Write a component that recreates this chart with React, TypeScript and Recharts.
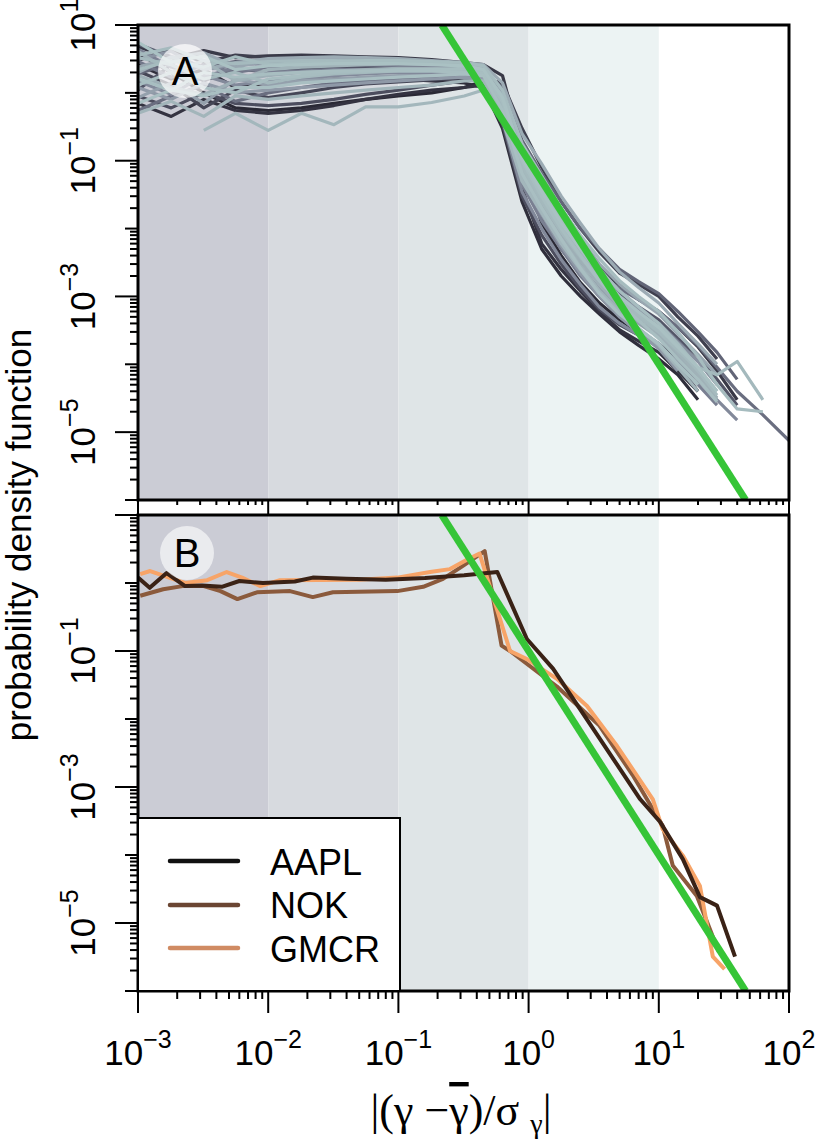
import React from "react";
import { LineChart, Line, XAxis, YAxis, ReferenceArea } from "recharts";

// shared x grid of the panel A curves
const A_X = [0.001, 0.0018, 0.0032, 0.0056, 0.01, 0.018, 0.032, 0.056, 0.1, 0.18, 0.32, 0.45, 0.63, 0.89, 1.26, 1.78, 2.5, 3.5, 5, 7, 10, 14, 20, 28, 40, 63, 100];

// panel A: one curve per stock
const s01 = [3.8, 2.0, 1.0, 0.6, 0.55, 0.6, 0.7, 0.8, 0.9, 1.0, 1.2, 1.5, 1.3, 0.1, 0.012, 4e-3, 1.6e-3, 8e-4, 4.5e-4, 3e-4, 2e-4, 1.2e-4, 6e-5, 3e-5, null, null, null];
const s02 = [0.7, 0.45, 0.8, 0.55, 0.5, 0.55, 0.65, 0.8, 0.95, 1.1, 1.2, 1.3, 0.6, 0.04, 6e-3, 2.5e-3, 1.2e-3, 6e-4, 3.2e-4, 2.2e-4, 1.5e-4, 8e-5, 4e-5, null, null, null, null];
const s03 = [4.8, 3.2, 4.2, 3.3, 3.5, 3.6, 3.5, 3.4, 3.3, 3.1, 2.8, 2.6, 1.8, 0.15, 0.04, 0.015, 6e-3, 2.8e-3, 1.4e-3, 9e-4, 6e-4, 3.5e-4, 1.8e-4, 8e-5, 3e-5, null, null];
const s04 = [2.1, 1.3, 0.6, 1.1, 0.85, 1.0, 1.2, 1.35, 1.45, 1.55, 1.65, 1.6, 0.45, 0.05, 0.015, 5e-3, 2.2e-3, 1e-3, 5e-4, 3.2e-4, 2e-4, 1e-4, 4e-5, null, null, null, null];
const s05 = [1.1, 2.6, 1.5, 2.3, 2.0, 2.2, 2.3, 2.4, 2.4, 2.3, 2.2, 2.0, 1.0, 0.1, 0.03, 0.01, 4.5e-3, 2.2e-3, 1.1e-3, 7e-4, 4.5e-4, 2.4e-4, 1.3e-4, 6e-5, 2.5e-5, null, null];
const s06 = [5.2, 3.4, 2.4, 2.9, 3.0, 3.1, 3.2, 3.1, 3.0, 2.9, 2.7, 2.3, 0.6, 0.06, 0.02, 7.5e-3, 3.3e-3, 1.6e-3, 8e-4, 5e-4, 3e-4, 1.6e-4, 8e-5, null, null, null, null];
const s07 = [0.55, 0.9, 1.3, 0.75, 1.0, 1.2, 1.4, 1.5, 1.6, 1.7, 1.8, 1.8, 0.7, 0.08, 0.025, 0.01, 4.5e-3, 2.2e-3, 1.3e-3, 9e-4, 6e-4, 3.5e-4, 1.9e-4, 9e-5, 4e-5, 1.8e-5, 7.5e-6];
const s08 = [2.9, 1.7, 2.6, 2.0, 2.4, 2.5, 2.6, 2.6, 2.5, 2.5, 2.4, 2.1, 0.9, 0.12, 0.04, 0.014, 5.5e-3, 2.5e-3, 1.2e-3, 7e-4, 4e-4, 2.2e-4, 1.1e-4, null, null, null, null];
const s09 = [1.5, 0.95, 1.8, 1.3, 1.5, 1.6, 1.8, 1.9, 2.0, 2.0, 2.0, 1.8, 0.4, 0.035, 0.01, 3.5e-3, 1.5e-3, 7e-4, 4e-4, 2.7e-4, 1.8e-4, 1.1e-4, 6e-5, 3e-5, 1.5e-5, null, null];
const s10 = [3.1, 4.1, 2.2, 2.6, 2.7, 2.8, 2.8, 2.8, 2.7, 2.6, 2.5, 2.2, 0.75, 0.09, 0.03, 0.01, 4.5e-3, 2e-3, 1e-3, 6.3e-4, 4e-4, 2.1e-4, 1.1e-4, 5e-5, null, null, null];
const s11 = [0.85, 1.4, 0.7, 1.6, 1.3, 1.5, 1.6, 1.7, 1.8, 1.8, 1.9, 1.7, 0.5, 0.06, 0.02, 7e-3, 2.8e-3, 1.3e-3, 6.5e-4, 4e-4, 2.5e-4, 1.3e-4, 6e-5, 2.8e-5, null, null, null];
const s12 = [2.4, 3.3, 3.9, 2.4, 3.0, 3.1, 3.2, 3.1, 3.0, 2.8, 2.6, 2.3, 1.0, 0.15, 0.05, 0.018, 7e-3, 3e-3, 1.5e-3, 9e-4, 5.5e-4, 2.8e-4, 1.4e-4, 7e-5, null, null, null];
const s13 = [1.8, 1.2, 0.95, 1.5, 1.8, 2.0, 2.1, 2.2, 2.3, 2.3, 2.2, 1.9, 0.6, 0.07, 0.022, 8e-3, 3.3e-3, 1.5e-3, 7e-4, 4.3e-4, 2.7e-4, 1.4e-4, 7e-5, 3.2e-5, null, null, null];
const s14 = [4.1, 2.0, 3.0, 1.5, 2.2, 2.4, 2.5, 2.6, 2.7, 2.7, 2.6, 2.3, 0.8, 0.1, 0.032, 0.011, 4.5e-3, 2e-3, 9e-4, 5.2e-4, 3e-4, 1.5e-4, 7e-5, 3e-5, null, null, null];
const s15 = [null, null, 0.28, 0.5, 0.28, 0.5, 0.34, 0.62, 0.62, 0.72, 0.9, 1.1, 0.4, 0.05, 0.017, 6e-3, 2.5e-3, 1.1e-3, 5.5e-4, 3.3e-4, 2e-4, 1e-4, 5e-5, null, null, null, null];
const s16 = [3.3, 2.6, 1.6, 2.0, 1.4, 1.7, 1.9, 2.0, 2.1, 2.1, 2.1, 1.9, 0.65, 0.08, 0.025, 9e-3, 3.8e-3, 1.7e-3, 8e-4, 4.9e-4, 3e-4, 1.6e-4, 9e-5, 7e-5, 1.1e-4, 3e-5, null];
const s17 = [2.2, 3.0, 2.4, 3.4, 2.6, 2.8, 2.9, 3.0, 3.0, 2.9, 2.8, 2.5, 1.1, 0.18, 0.06, 0.02, 8e-3, 3.6e-3, 1.7e-3, 1e-3, 6e-4, 3e-4, 1.3e-4, 5e-5, 2.2e-5, 2e-5, null];
const s18 = [1.3, 2.0, 1.2, 1.0, 1.6, 1.8, 2.0, 2.1, 2.2, 2.2, 2.3, 2.0, 0.9, 0.12, 0.04, 0.014, 5.5e-3, 2.5e-3, 1.2e-3, 7e-4, 4e-4, 2e-4, 9e-5, 4e-5, null, null, null];
const s19 = [0.7, 1.1, 0.9, 1.2, 1.2, 1.4, 1.5, 1.6, 1.7, 1.8, 1.9, 1.8, 0.55, 0.065, 0.02, 7e-3, 2.6e-3, 1.1e-3, 5.5e-4, 3.3e-4, 2e-4, 1e-4, 5e-5, null, null, null, null];
const s20 = [5.6, 2.8, 3.5, 2.2, 2.5, 2.6, 2.7, 2.7, 2.7, 2.6, 2.5, 2.2, 0.85, 0.11, 0.035, 0.012, 5e-3, 2.2e-3, 1e-3, 5.9e-4, 3.5e-4, 1.8e-4, 9e-5, 4e-5, null, null, null];
const s21 = [2.6, 1.6, 2.2, 1.2, 1.4, 1.5, 1.6, 1.6, 1.6, 1.5, 1.4, 1.2, 0.3, 0.025, 5e-3, 2e-3, 1e-3, 5.5e-4, 3e-4, 1.9e-4, 1.2e-4, 7e-5, 3e-5, null, null, null, null];
const s22 = [3.0, 4.4, 2.8, 3.6, 3.3, 3.3, 3.2, 3.0, 2.8, 2.5, 2.0, 1.6, 1.4, 0.3, 0.08, 0.025, 0.01, 4.5e-3, 2.2e-3, 1.5e-3, 1e-3, 5e-4, 2.6e-4, 1.2e-4, null, null, null];
const s23 = [0.9, 0.6, 1.0, 0.7, 0.65, 0.7, 0.8, 0.95, 1.1, 1.3, 1.5, 1.6, 0.35, 0.03, 8e-3, 3e-3, 1.3e-3, 6.5e-4, 3.8e-4, 2.7e-4, 1.9e-4, 1.1e-4, 6e-5, 3e-5, null, null, null];
const s24 = [1.9, 2.8, 3.6, 2.6, 2.9, 2.9, 2.8, 2.7, 2.6, 2.5, 2.3, 2.0, 1.2, 0.2, 0.065, 0.025, 0.01, 5e-3, 2.5e-3, 1.65e-3, 1.1e-3, 6e-4, 3e-4, 1.5e-4, 6e-5, null, null];
const s25 = [4.4, 2.4, 1.7, 2.4, 2.0, 2.1, 2.2, 2.2, 2.2, 2.1, 2.0, 1.8, 0.55, 0.045, 0.013, 5e-3, 2e-3, 1e-3, 5e-4, 3.1e-4, 1.9e-4, 1e-4, 5e-5, 2.5e-5, null, null, null];
const s26 = [1.2, 0.8, 1.4, 1.0, 1.1, 1.2, 1.3, 1.4, 1.5, 1.6, 1.7, 1.6, 0.5, 0.055, 0.016, 5.5e-3, 2.2e-3, 1e-3, 5e-4, 2.9e-4, 1.7e-4, 8e-5, null, null, null, null, null];
const s27 = [2.0, 3.4, 2.2, 2.8, 3.2, 3.3, 3.4, 3.3, 3.2, 3.0, 2.8, 2.6, 1.4, 0.25, 0.09, 0.03, 0.012, 5e-3, 2.3e-3, 1.35e-3, 8e-4, 4e-4, 2e-4, 1e-4, null, null, null];
const s28 = [0.5, 0.75, 0.45, 0.9, 0.8, 0.9, 1.0, 1.1, 1.2, 1.3, 1.5, 1.5, 0.5, 0.06, 0.02, 7e-3, 2.8e-3, 1.2e-3, 6e-4, 3.4e-4, 1.9e-4, 9e-5, 4e-5, null, null, null, null];
const s29 = [3.6, 4.6, 3.0, 2.7, 2.9, 3.0, 3.0, 2.9, 2.8, 2.7, 2.5, 2.2, 0.7, 0.085, 0.028, 0.01, 4e-3, 1.8e-3, 8.5e-4, 5.3e-4, 3.3e-4, 1.7e-4, 8e-5, 3.5e-5, null, null, null];
const s30 = [1.6, 1.1, 2.0, 1.7, 1.9, 2.0, 2.1, 2.1, 2.1, 2.1, 2.0, 1.9, 0.75, 0.1, 0.03, 0.01, 4e-3, 1.7e-3, 8e-4, 4.4e-4, 2.4e-4, 1.2e-4, 6e-5, 2.8e-5, null, null, null];

// drawing order: darkest first, lightest on top
const A_SERIES = [s01, s21, s02, s03, s22, s04, s23, s05, s06, s24, s07, s08, s25, s09, s10, s26, s11, s12, s27, s13, s14, s28, s15, s16, s29, s17, s18, s30, s19, s20];
const A_COLORS = [
  "#2a2935", "#2f2e3b", "#343341", "#393947", "#3f3f4e", "#454656", "#4c4d5e", "#535567", "#5a5d6f", "#626577",
  "#6a6e80", "#727789", "#7a8092", "#82899a", "#8992a1", "#8f99a7", "#94a0ac", "#98a6b0", "#9cabb4", "#9eafb6",
  "#a0b2b8", "#a2b5ba", "#a3b7bc", "#a4b9bd", "#a5babe", "#a6bcbf", "#a7bdc0", "#a8bec1", "#a9bfc2", "#aac1c3",
];

// panel B
const AAPL_X = [0.001, 0.00123, 0.00166, 0.0023, 0.0031, 0.0044, 0.006, 0.0091, 0.016, 0.022, 0.04, 0.08, 0.16, 0.32, 0.575, 0.97, 1.54, 7.2, 10.2, 15.3, 20.7, 28, 38.5];
const AAPL_Y = [1.2, 0.85, 1.4, 0.9, 0.92, 0.88, 1.07, 1.0, 1.05, 1.2, 1.15, 1.12, 1.18, 1.3, 1.45, 0.15, 0.055, 6.6e-4, 3.1e-4, 8.7e-5, 2.4e-5, 1.8e-5, 3.2e-6];
const NOK_X = [0.00104, 0.00156, 0.0022, 0.0032, 0.0043, 0.0058, 0.0082, 0.0147, 0.022, 0.0314, 0.098, 0.155, 0.22, 0.315, 0.46, 0.62, 0.72, 1.65, 3.5, 6.3, 10.7, 12.8, 19.6, 23.2, 29];
const NOK_Y = [0.65, 0.81, 0.9, 0.9, 0.76, 0.58, 0.73, 0.76, 0.62, 0.73, 0.76, 0.88, 1.15, 1.8, 2.95, 0.12, 0.1, 0.03, 8e-3, 1.5e-3, 2.7e-4, 7e-5, 2.5e-5, 1.1e-5, 3.7e-6];
const GMCR_X = [0.00104, 0.00124, 0.00167, 0.0023, 0.0034, 0.0048, 0.0063, 0.0087, 0.0123, 0.05, 0.098, 0.175, 0.249, 0.336, 0.42, 0.72, 0.97, 1.65, 2.81, 4.78, 9.0, 10.7, 15.3, 20.7, 26, 32];
const GMCR_Y = [1.35, 1.5, 1.23, 1.0, 1.1, 1.45, 1.2, 0.9, 1.1, 1.12, 1.2, 1.45, 1.6, 2.2, 2.7, 0.1, 0.076, 0.039, 0.0155, 4e-3, 6.6e-4, 2.4e-4, 9.8e-5, 3.5e-5, 3.2e-6, 2.1e-6];

// power-law guide, slope -3
const GUIDE_X = [0.2154, 46.42];
const GUIDE_Y = [10, 1e-6];

const BANDS = [
  { from: 0.001, to: 0.01, color: "#cbccd5" },
  { from: 0.01, to: 0.1, color: "#d7dadf" },
  { from: 0.1, to: 1, color: "#dfe5e7" },
  { from: 1, to: 10, color: "#ecf3f3" },
];

const X_DECADES = [1e-3, 1e-2, 1e-1, 1, 10, 100];
const X_EXP = ["\u22123", "\u22122", "\u22121", "0", "1", "2"];
const Y_DECADES = [1e-6, 1e-5, 1e-4, 1e-3, 1e-2, 1e-1, 1, 10];
const Y_EXP = ["\u22126", "\u22125", "\u22124", "\u22123", "\u22122", "\u22121", "0", "1"];
const A_Y_LABELED = ["1", "\u22121", "\u22123", "\u22125"];
const B_Y_LABELED = ["\u22121", "\u22123", "\u22125"];

const withMinors = (decades: number[]) => {
  const out: number[] = [];
  decades.forEach((d, i) => {
    out.push(d);
    if (i < decades.length - 1) for (let m = 2; m <= 9; m++) out.push(m * d);
  });
  return out;
};
const X_TICKS = withMinors(X_DECADES);
const Y_TICKS = withMinors(Y_DECADES);

const toPts = (xs: number[], ys: (number | null)[]) =>
  xs.map((x, i) => ({ x, y: ys[i] })).filter((p) => p.y != null);

const decadeIndex = (v: number, decades: number[]) =>
  decades.findIndex((d) => Math.abs(d - v) / d < 1e-6);

const SANS = "'Liberation Sans', Arial, Helvetica, sans-serif";

const XTick = (props: any) => {
  const { x, y, payload, labels, major, minor } = props;
  const i = decadeIndex(payload.value, X_DECADES);
  return (
    <g>
      <line x1={x} x2={x} y1={y} y2={y + (i >= 0 ? major : minor)} stroke="#000" strokeWidth={2} />
      {i >= 0 && labels && (
        <text x={x} y={y + 74} textAnchor="middle" fontFamily={SANS} fontSize={35} fill="#000">
          10<tspan dy={-17} fontSize={25}>{X_EXP[i]}</tspan>
        </text>
      )}
    </g>
  );
};

const YTick = (props: any) => {
  const { x, y, payload, labeled } = props;
  const i = decadeIndex(payload.value, Y_DECADES);
  const isLab = i >= 0 && labeled.includes(Y_EXP[i]);
  const len = i < 0 ? 8 : isLab || Y_EXP[i] === "1" ? 23 : 13;
  const bx = x - 43;
  return (
    <g>
      <line x1={x - len} x2={x} y1={y} y2={y} stroke="#000" strokeWidth={2} />
      {isLab && (
        <text x={bx} y={y} transform={`rotate(-90 ${bx} ${y})`} textAnchor="middle" fontFamily={SANS} fontSize={35} fill="#000">
          10<tspan dy={-17} fontSize={25}>{Y_EXP[i]}</tspan>
        </text>
      )}
    </g>
  );
};

const Bands = () =>
  BANDS.map((b) => (
    <ReferenceArea key={b.from} x1={b.from} x2={b.to} y1={1e-6} y2={10} fill={b.color} fillOpacity={1} stroke="none" />
  ));

function Panel({ height, top, xLabels, children, yLabeled, xMajor, xMinor, xHeight }: any) {
  return (
    <div style={{ position: "absolute", left: 0, top }}>
      <LineChart width={820} height={height} margin={{ top: top === 0 ? 25 : 10, right: 31, bottom: 0, left: 0 }}>
        <XAxis
          dataKey="x"
          type="number"
          scale="log"
          domain={[0.001, 100]}
          allowDataOverflow
          ticks={X_TICKS}
          interval={0}
          axisLine={false}
          tickLine={false}
          tickSize={0}
          tickMargin={0}
          height={xHeight}
          tick={(p: any) => <XTick {...p} labels={xLabels} major={xMajor} minor={xMinor} />}
        />
        <YAxis
          type="number"
          scale="log"
          domain={[1e-6, 10]}
          allowDataOverflow
          ticks={Y_TICKS}
          interval={0}
          width={138}
          axisLine={false}
          tickLine={false}
          tickSize={0}
          tickMargin={0}
          tick={(p: any) => <YTick {...p} labeled={yLabeled} />}
        />
        {Bands()}
        {children}
        <Line
          data={toPts(GUIDE_X, GUIDE_Y)}
          dataKey="y"
          stroke="#36c537"
          strokeWidth={7}
          dot={false}
          isAnimationActive={false}
        />
      </LineChart>
    </div>
  );
}

export default function App() {
  return (
    <div style={{ position: "absolute", left: 0, top: 0, width: 820, height: 1140, background: "#fff" }}>
      <Panel top={0} height={515} xLabels={false} yLabeled={A_Y_LABELED} xMajor={14} xMinor={5} xHeight={15}>
        {A_SERIES.map((s, i) => (
          <Line
            key={"a" + i}
            data={toPts(A_X, s)}
            dataKey="y"
            stroke={A_COLORS[i]}
            strokeWidth={3.2}
            strokeLinejoin="round"
            dot={false}
            isAnimationActive={false}
          />
        ))}
      </Panel>
      <Panel top={505} height={635} xLabels yLabeled={B_Y_LABELED} xMajor={22} xMinor={8} xHeight={149}>
        <Line data={toPts(NOK_X, NOK_Y)} dataKey="y" stroke="#8b5a3c" strokeWidth={4} strokeLinejoin="round" dot={false} isAnimationActive={false} />
        <Line data={toPts(GMCR_X, GMCR_Y)} dataKey="y" stroke="#f7a468" strokeWidth={4} strokeLinejoin="round" dot={false} isAnimationActive={false} />
        <Line data={toPts(AAPL_X, AAPL_Y)} dataKey="y" stroke="#3a2216" strokeWidth={4} strokeLinejoin="round" dot={false} isAnimationActive={false} />
      </Panel>

      <svg width={820} height={1140} style={{ position: "absolute", left: 0, top: 0, pointerEvents: "none" }}>
        <rect x={138} y={25} width={651} height={475} fill="none" stroke="#000" strokeWidth={3} />
        <rect x={138} y={515} width={651} height={476} fill="none" stroke="#000" strokeWidth={3} />

        <circle cx={185} cy={71} r={27} fill="#fff" fillOpacity={0.7} />
        <text x={185} y={85} textAnchor="middle" fontFamily={SANS} fontSize={40}>A</text>
        <circle cx={187} cy={553} r={27} fill="#fff" fillOpacity={0.6} />
        <text x={187} y={567} textAnchor="middle" fontFamily={SANS} fontSize={40}>B</text>

        <rect x={138} y={818} width={262} height={173} fill="#fff" stroke="#000" strokeWidth={2} />
        <line x1={170} x2={238} y1={861} y2={861} stroke="#111" strokeWidth={4.5} strokeLinecap="round" />
        <line x1={170} x2={238} y1={905} y2={905} stroke="#6b4633" strokeWidth={4.5} strokeLinecap="round" />
        <line x1={170} x2={238} y1={948} y2={948} stroke="#d08b63" strokeWidth={4.5} strokeLinecap="round" />
        <text x={270} y={875} fontFamily={SANS} fontSize={36}>AAPL</text>
        <text x={270} y={918} fontFamily={SANS} fontSize={36}>NOK</text>
        <text x={270} y={962} fontFamily={SANS} fontSize={36}>GMCR</text>

        <text transform="translate(31 535) rotate(-90)" textAnchor="middle" fontFamily={SANS} fontSize={35}>
          probability density function
        </text>

        <text x={461} y={1125} textAnchor="middle" fontFamily="'Liberation Serif', 'Times New Roman', serif" fontSize={44}>
          |(γ −<tspan style={{ textDecoration: "overline" }}>γ</tspan>)/σ <tspan fontSize={28} dy={8}>γ</tspan>
          <tspan dy={-8}>|</tspan>
        </text>
      </svg>
    </div>
  );
}
